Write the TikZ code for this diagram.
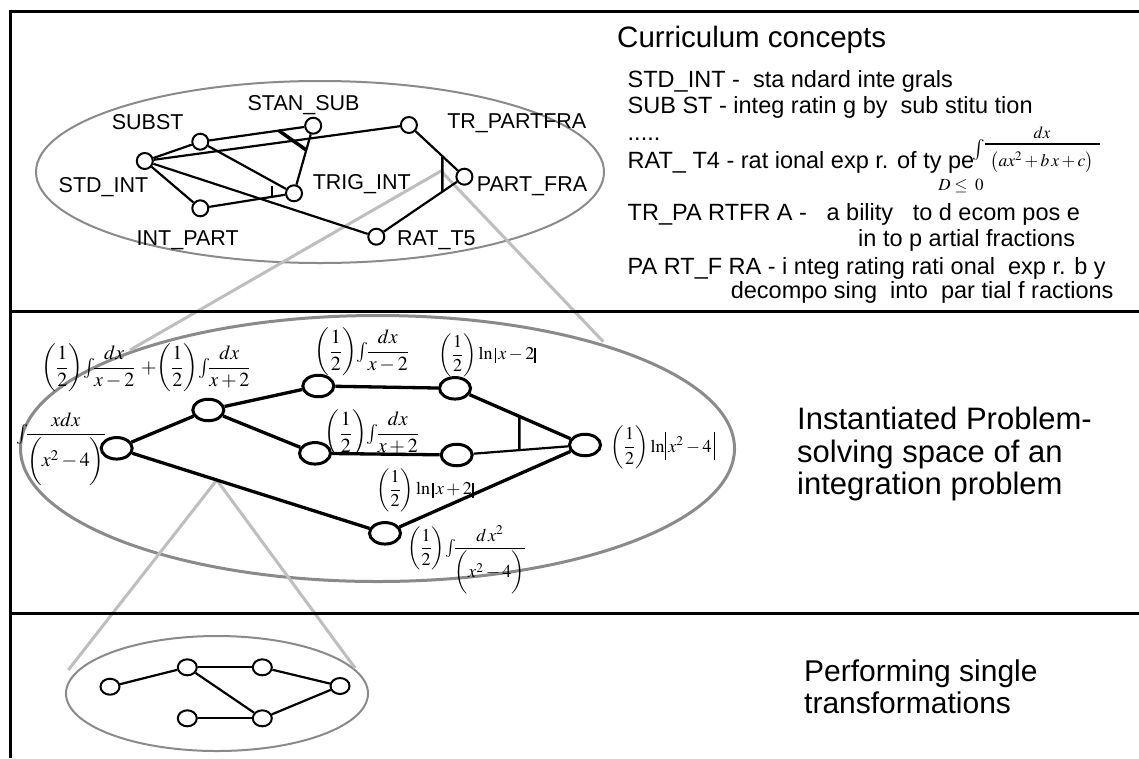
\documentclass[tikz,border=0pt]{standalone}
\usepackage{amsmath}
\usepackage{mathptmx}
\usepackage[no-math]{fontspec}
\setmainfont{Liberation Sans}
\usetikzlibrary{shapes.geometric,calc}
\pgfdeclarelayer{back}
\pgfsetlayers{back,main}
\definecolor{zonegray}{HTML}{8A8A8A}
\definecolor{zoomgray}{HTML}{BEBEBE}
% thick bar used for the absolute-value signs
\newcommand{\absline}[2]{\rule[#1]{1.8pt}{#2}}
\tikzset{
  concept/.style={circle, draw, fill=white, line width=2pt, minimum size=16pt, inner sep=0pt},
  state/.style={ellipse, draw, fill=white, line width=3pt, minimum width=31pt, minimum height=21.5pt, inner sep=0pt},
  micro/.style={ellipse, draw, fill=white, line width=2pt, minimum width=19pt, minimum height=16pt, inner sep=0pt},
  link/.style={line width=2.2pt},
  strong/.style={line width=3.3pt},
  zone/.style={draw=zonegray, line width=2pt},
  zoomline/.style={draw=zoomgray, line width=3pt},
  lab/.style={font=\fontsize{21.5}{24}\selectfont, inner sep=0pt},
  expr/.style={font=\fontsize{20}{24}\selectfont, inner sep=0pt},
  sexpr/.style={font=\fontsize{18}{22}\selectfont, inner sep=0pt},
  defn/.style={font=\fontsize{23.5}{26}\selectfont, anchor=base west, inner sep=0pt},
  heading/.style={anchor=north west, align=left, inner sep=0pt}
}
\begin{document}
\begin{tikzpicture}[x=1pt,y=-1pt]
\useasboundingbox (0,0) rectangle (1139,758);

% frame and level separators
\draw[line width=3pt] (1139,11.5) -- (10,11.5) -- (10,758);
\draw[line width=3pt] (10,311) -- (1139,311);
\draw[line width=3pt] (10,613) -- (1139,613);

% ---------- curriculum concepts ----------
\node[concept] (STD)  at (144.8,161) {};
\node[concept] (SUB)  at (200.3,141.7) {};
\node[concept] (STAN) at (313.2,125.7) {};
\node[concept] (TRP)  at (408.9,125) {};
\node[concept] (TRIG) at (294,193.3) {};
\node[concept] (IP)   at (200.3,208.3) {};
\node[concept] (PF)   at (464.4,176.7) {};
\node[concept] (RAT)  at (376.3,236.7) {};

\node[lab] (lSUB)  at (147.7,121.7) {SUBST};
\node[lab] (lSTAN) at (303.6,105) {STAN\_SUB};
\node[lab] (lTRP)  at (516.8,123.3) {TR\_PARTFRA};
\node[lab] (lSTD)  at (103.5,186.7) {STD\_INT};
\node[lab] (lTRIG) at (361.8,184) {TRIG\_INT};
\node[lab] (lPF)   at (532,186.7) {PART\_FRA};
\node[lab] (lIP)   at (187.7,240) {INT\_PART};
\node[lab] (lRAT)  at (436.4,240) {RAT\_T5};

\draw[link] (STD) -- (SUB);
\draw[link] (SUB) -- (STAN);
\draw[link] (STD) -- (TRP);
\draw[link] (SUB) -- (TRIG);
\draw[link] (STAN) -- (TRIG);
\draw[link] (STD) -- (IP);
\draw[link] (IP) -- (TRIG);
\draw[link] (STD) -- (RAT);
\draw[link] (RAT) -- (PF);
\draw[link] (TRP) -- (PF);
% conjunction marks
\draw[line width=3.5pt] ($(SUB)!0.695!(STAN)$) -- ($(STAN)!0.36!(TRIG)$);
\draw[line width=2.5pt] ($(IP)!0.765!(TRIG)$) -- ++(0,-11);
\coordinate (andTop) at ($(TRP)!0.605!(PF)$);
\draw[line width=2.5pt] (andTop) -- ($(RAT)!0.751!(PF)$);

% ---------- definitions ----------
\node[anchor=base west, inner sep=0pt, font=\fontsize{29.5}{32}\selectfont] (title) at (617,47) {Curriculum concepts};
\node[defn] (d1) at (627.5,87.3)  {STD\_INT -\ \ sta ndard inte grals};
\node[defn] (d2) at (627.5,113.3) {SUB ST - integ ratin g by\ \ sub stitu tion};
\node[defn] (d3) at (627.5,140)   {.....};
\node[defn] (d4) at (627.5,168.3) {RAT\_ T4 - rat ional exp r. of ty pe};
\node[inner sep=0pt, font=\fontsize{21}{23}\selectfont] (f4i) at (979,150) {$\int$};
\draw[line width=2.5pt] (985,144) -- (1100,144);
\node[inner sep=0pt, font=\fontsize{17}{20}\selectfont] (f4n) at (1042,133) {$dx$};
\node[inner sep=0pt, font=\fontsize{17.5}{20}\selectfont] (f4d) at (1042,162) {$\bigl(ax^{2}+b\,x+c\bigr)$};
\node[inner sep=0pt, font=\fontsize{17}{20}\selectfont] (f4c) at (961,186) {$D\leq\;0$};
\node[defn] (d5) at (627.5,220.7) {TR\_PA RTFR A -\ \ \ a bility\ \ \ to d\ ecom pos\ e};
\node[defn] (d6) at (858,246.7)   {in to p\ artial fractions};
\node[defn] (d7) at (627.5,274)   {PA RT\_F RA - i nteg rating rati onal\ \ exp r. b y};
\node[defn] (d8) at (730.6,298.3) {decompo sing\ \ into\ \ par tial f ractions};

% ---------- problem-solving space ----------
\node[state] (N0) at (116.7,448.3) {};
\node[state] (N1) at (208.3,410) {};
\node[state] (N2) at (318.3,386) {};
\node[state] (N3) at (315,453.3) {};
\node[state] (N4) at (455,388.3) {};
\node[state] (N5) at (456.7,455) {};
\node[state] (N6) at (585,445) {};
\node[state] (N7) at (385,533.3) {};

\node[expr] (e0) at (146,368) {$\left(\dfrac{1}{2}\right)\!{\textstyle\int}\!\dfrac{dx}{x-2}\ \mathbf{+}\!\left(\dfrac{1}{2}\right)\!{\textstyle\int}\!\dfrac{dx}{x+2}$};
\node[expr] (eS) at (61,449) {${\textstyle\int}\!\dfrac{xdx}{\biggl(x^{2}-4\biggr)}$};
\node[expr] (e2) at (362,352) {$\left(\dfrac{1}{2}\right)\!{\textstyle\int}\!\dfrac{dx}{x-2}$};
\node[sexpr] (e4) at (487.5,355) {$\left(\dfrac{1}{2}\right)\ln\absline{-3pt}{15pt}\,x-2\absline{-3pt}{15pt}$};
% this label is cut off by the edge below it
\begin{scope}
  \clip (300,395) rectangle (430,452);
  \node[expr] (e3) at (372,434) {$\left(\dfrac{1}{2}\right)\!{\textstyle\int}\!\dfrac{dx}{x+2}$};
\end{scope}
\node[sexpr] (e5) at (425,490) {$\left(\dfrac{1}{2}\right)\ln\absline{-3pt}{15pt}\,x+2\absline{-3pt}{15pt}$};
\node[sexpr] (e6) at (663,447.5) {$\left(\dfrac{1}{2}\right)\ln\!\absline{-8pt}{28pt}\,x^{2}-4\,\absline{-8pt}{28pt}$};
\node[sexpr] (e7) at (466.5,560) {$\left(\dfrac{1}{2}\right)\!{\textstyle\int}\!\dfrac{d\,x^{2}}{\biggl(x^{2}-4\biggr)}$};

\draw[strong] (N0) -- (N1);
\draw[strong] (N1) -- (N2);
\draw[strong] (N1) -- (N3);
\draw[strong] (N0) -- (N7);
\draw[strong] (N2) -- (N4);
\draw[strong] (N3) -- (N5);
\draw[strong] (N4) -- (N6);
\draw[link]   (N5) -- (N6);
\draw[strong] (N7) -- (N6);
\draw[line width=2.5pt] ($(N4)!0.495!(N6)$) -- ($(N5)!0.488!(N6)$);

\node[heading, font=\fontsize{31}{32.5}\selectfont] (t2) at (797,407) {Instantiated Problem-\\solving space of an\\integration problem};

% ---------- single transformations ----------
\node[micro] (a) at (110,686.7) {};
\node[micro] (b) at (187.3,667.3) {};
\node[micro] (c) at (262.3,667.3) {};
\node[micro] (d) at (340,686) {};
\node[micro] (e) at (187.3,718.3) {};
\node[micro] (f) at (262.3,718.3) {};
\draw[link] (a) -- (b);
\draw[link] (b) -- (c);
\draw[link] (c) -- (d);
\draw[link] (b) -- (f);
\draw[link] (e) -- (f);
\draw[link] (f) -- (d);

\node[heading, font=\fontsize{30}{32}\selectfont] (t3) at (804,660) {Performing single\\transformations};

% ---------- zoom cones and level regions ----------
\coordinate (apexTop) at (441,171);
\coordinate (midL) at (130,350);
\coordinate (midR) at (603.3,341.7);
\coordinate (apexMid) at ($(N0)!0.373!(N7)$);
\coordinate (botL) at (68.3,670);
\coordinate (botR) at (355,668);
\begin{pgfonlayer}{back}
  \fill[white] (0,0) rectangle (1139,758);
  \draw[zone] (320,172) ellipse [x radius=284pt, y radius=91pt];
  \draw[zone, line width=3pt] (377.5,448.5) ellipse [x radius=357pt, y radius=133pt];
  \draw[zone] (217,693.5) ellipse [x radius=151pt, y radius=57.5pt];
  \draw[zoomline] (midL) -- (apexTop) -- (midR);
  \draw[zoomline] (botL) -- (apexMid) -- (botR);
\end{pgfonlayer}
\end{tikzpicture}
\end{document}
